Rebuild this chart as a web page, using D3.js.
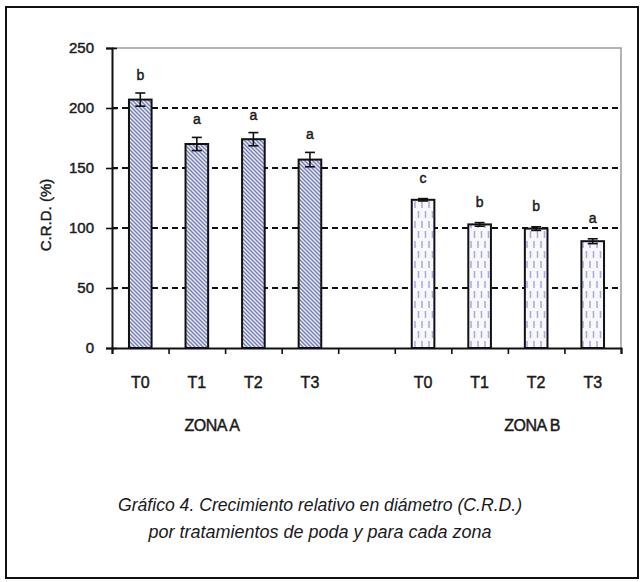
<!DOCTYPE html>
<html>
<head>
<meta charset="utf-8">
<script src="https://cdn.jsdelivr.net/npm/d3@7"></script>
<style>
  html, body { margin: 0; padding: 0; background: #fff; }
  svg { display: block; }
  text { font-family: Arial, "Liberation Sans", sans-serif; fill: #1a1a1a; }
  .heavy { stroke: #1a1a1a; stroke-width: 0.45px; }
</style>
</head>
<body>
<svg id="chart" width="643" height="582"></svg>
<script>
// Relative diameter growth (%) per pruning treatment, by zone
const treatments = ["T0", "T1", "T2", "T3"];
const zones = ["ZONA A", "ZONA B"];
const valuesA = [207, 170, 174, 157];
const errorsA = [5.5, 5.5, 5.5, 6];
const lettersA = ["b", "a", "a", "a"];
const valuesB = [123.5, 103, 99.5, 89];
const errorsB = [1, 1.5, 1.5, 2];
const lettersB = ["c", "b", "b", "a"];
const yTicks = [0, 50, 100, 150, 200, 250];
const captionLines = [
  "Gráfico 4. Crecimiento relativo en diámetro (C.R.D.)",
  "por tratamientos de poda y para cada zona"
];

// nine category slots: four per zone with an empty one between them
const slots = [
  ...treatments.map(t => "A-" + t),
  "gap",
  ...treatments.map(t => "B-" + t)
];
const bars = [
  ...treatments.map((t, i) => ({ slot: "A-" + t, zone: 0, label: t, value: valuesA[i], err: errorsA[i], letter: lettersA[i] })),
  ...treatments.map((t, i) => ({ slot: "B-" + t, zone: 1, label: t, value: valuesB[i], err: errorsB[i], letter: lettersB[i] }))
];

const svg = d3.select("#chart");
const plotL = 112, plotR = 621, plotT = 48, plotB = 348;

const x = d3.scaleBand().domain(slots).range([plotL, plotR]).paddingInner(0).paddingOuter(0);
const xEdge = d3.scaleLinear().domain([0, slots.length]).range([plotL, plotR]);
const y = d3.scaleLinear().domain([0, 250]).range([plotB, plotT]);

// outer frame
svg.append("rect")
  .attr("x", 6).attr("y", 7).attr("width", 632).attr("height", 571)
  .attr("fill", "none").attr("stroke", "#111").attr("stroke-width", 2);

// fill patterns
const defs = svg.append("defs");
const hatch = defs.append("pattern")
  .attr("id", "hatchA").attr("patternUnits", "userSpaceOnUse")
  .attr("width", 4).attr("height", 4);
hatch.append("rect").attr("width", 4).attr("height", 4).attr("fill", "#e8eaf6");
hatch.append("path")
  .attr("d", "M0,0 L4,4 M-1,3 L1,5 M3,-1 L5,1")
  .attr("stroke", "#727ab9").attr("stroke-width", 1.3);

const dashes = defs.append("pattern")
  .attr("id", "dashB").attr("patternUnits", "userSpaceOnUse")
  .attr("width", 7).attr("height", 20);
dashes.append("rect").attr("width", 7).attr("height", 20).attr("fill", "#f7f7fd");
dashes.append("path")
  .attr("d", "M2,1 V8 M5.5,11 V18")
  .attr("stroke", "#a9acd8").attr("stroke-width", 1.5);

// grey plot-area border (top and right)
svg.append("path")
  .attr("d", `M${plotL},${y(250)} H${plotR} V${plotB}`)
  .attr("fill", "none").attr("stroke", "#9a9a9a").attr("stroke-width", 1.5);

// dashed gridlines
svg.append("g")
  .selectAll("line")
  .data(yTicks.filter(v => v > 0 && v < 250))
  .join("line")
  .attr("x1", plotL).attr("x2", plotR)
  .attr("y1", d => y(d)).attr("y2", d => y(d))
  .attr("stroke", "#111").attr("stroke-width", 2)
  .attr("stroke-dasharray", "6,4");

// bars
const barW = x.bandwidth() * 0.4;
const barX = d => x(d.slot) + (x.bandwidth() - barW) / 2;
const cx = d => x(d.slot) + x.bandwidth() / 2;

svg.append("g")
  .selectAll("rect")
  .data(bars)
  .join("rect")
  .attr("x", barX)
  .attr("y", d => y(d.value))
  .attr("width", barW)
  .attr("height", d => y(0) - y(d.value))
  .attr("fill", d => d.zone === 0 ? "url(#hatchA)" : "url(#dashB)")
  .attr("stroke", "#111").attr("stroke-width", 2);

// error bars
const eb = svg.append("g").attr("stroke", "#111").attr("stroke-width", 1.6);
eb.selectAll("line.v").data(bars).join("line").attr("class", "v")
  .attr("x1", cx).attr("x2", cx)
  .attr("y1", d => y(d.value + d.err)).attr("y2", d => y(d.value - d.err));
eb.selectAll("line.t").data(bars).join("line").attr("class", "t")
  .attr("x1", d => cx(d) - 5).attr("x2", d => cx(d) + 5)
  .attr("y1", d => y(d.value + d.err)).attr("y2", d => y(d.value + d.err));
eb.selectAll("line.b").data(bars).join("line").attr("class", "b")
  .attr("x1", d => cx(d) - 5).attr("x2", d => cx(d) + 5)
  .attr("y1", d => y(d.value - d.err)).attr("y2", d => y(d.value - d.err));

// significance letters
svg.append("g")
  .selectAll("text")
  .data(bars)
  .join("text")
  .attr("class", "heavy")
  .attr("x", cx)
  .attr("y", d => y(d.value + d.err) - (d.zone === 0 ? 13 : 16))
  .attr("text-anchor", "middle")
  .style("font-size", "14px")
  .text(d => d.letter);

// y axis
const yAxis = svg.append("g")
  .attr("transform", `translate(${plotL},0)`)
  .call(d3.axisLeft(y).tickValues(yTicks).tickSize(6).tickPadding(12));
yAxis.select(".domain").attr("stroke", "#111").attr("stroke-width", 2);
yAxis.selectAll(".tick line").attr("x1", -6).attr("x2", 5).attr("stroke", "#111").attr("stroke-width", 1.6);
yAxis.selectAll(".tick text").attr("class", "heavy").style("font-size", "15px").attr("fill", "#1a1a1a");

// x axis: boundary ticks
const xTicks = svg.append("g")
  .attr("transform", `translate(0,${plotB})`)
  .call(d3.axisBottom(xEdge).tickValues(d3.range(slots.length + 1)).tickSize(6).tickFormat(""));
xTicks.select(".domain").attr("stroke", "#111").attr("stroke-width", 2);
xTicks.selectAll(".tick line").attr("stroke", "#111").attr("stroke-width", 1.6);

// x axis: treatment labels
const xLabels = svg.append("g")
  .attr("transform", `translate(0,${plotB})`)
  .call(d3.axisBottom(x).tickSize(0).tickPadding(29)
    .tickFormat(s => s === "gap" ? "" : s.split("-")[1]));
xLabels.select(".domain").remove();
xLabels.selectAll(".tick text").attr("class", "heavy").style("font-size", "16px").attr("fill", "#1a1a1a");

// zone labels
const zoneX = [212, 532];
svg.append("g")
  .selectAll("text")
  .data(zones)
  .join("text")
  .attr("class", "heavy")
  .attr("x", (d, i) => zoneX[i])
  .attr("y", 431)
  .attr("text-anchor", "middle")
  .style("font-size", "16px")
  .style("letter-spacing", "-0.5px")
  .text(d => d);

// y axis title
svg.append("text")
  .attr("class", "heavy")
  .attr("transform", `translate(46,${(plotT + plotB) / 2 + 17}) rotate(-90)`)
  .attr("text-anchor", "middle")
  .attr("dy", "0.35em")
  .style("font-size", "15px")
  .text("C.R.D. (%)");

// caption
const capWidths = [404, 343];
svg.append("g")
  .selectAll("text")
  .data(captionLines)
  .join("text")
  .attr("x", 320)
  .attr("y", (d, i) => 511 + i * 27)
  .attr("text-anchor", "middle")
  .attr("textLength", (d, i) => capWidths[i])
  .attr("lengthAdjust", "spacingAndGlyphs")
  .style("font-family", "'Liberation Sans Narrow', 'Liberation Sans', Arial, sans-serif")
  .style("font-style", "italic")
  .style("font-size", "19px")
  .text(d => d);
</script>
</body>
</html>
